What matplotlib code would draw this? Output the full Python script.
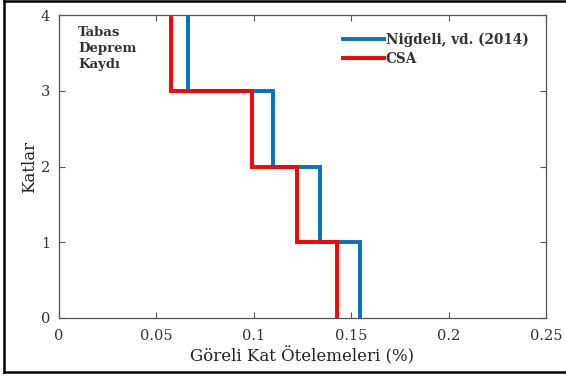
import numpy as np
import matplotlib.pyplot as plt
from matplotlib.lines import Line2D

# storey drift ratios (%) for storeys 1..4
storeys = [1, 2, 3, 4]
nigdeli = [0.1546, 0.1341, 0.1102, 0.0663]
csa = [0.1430, 0.1221, 0.0994, 0.0577]
xticks = [0, 0.05, 0.1, 0.15, 0.2, 0.25]
xticklabels = ['0', '0.05', '0.1', '0.15', '0.2', '0.25']
yticks = [0, 1, 2, 3, 4]

plt.rcParams['font.family'] = ['DejaVu Serif']


def stair(vals, levels):
    x = np.repeat(vals, 2)
    y = np.concatenate([[0], np.repeat(levels[:-1], 2), [levels[-1]]])
    return x, y


fig = plt.figure(figsize=(5.66, 3.76), dpi=100)
ax = fig.add_axes([0.1034, 0.1543, 0.8613, 0.8057])

xb, yb = stair(nigdeli, storeys)
xr, yr = stair(csa, storeys)
ax.plot(xb, yb, color='#0072BD', lw=2.8, label='Niğdeli, vd. (2014)', solid_joinstyle='miter')
ax.plot(xr, yr, color='#FF0000', lw=2.8, label='CSA', solid_joinstyle='miter')

ax.set_xlim(0, 0.25)
ax.set_ylim(0, 4)
ax.set_xticks(xticks)
ax.set_xticklabels(xticklabels)
ax.set_yticks(yticks)
for s in ax.spines.values():
    s.set_color('#555555')
    s.set_linewidth(0.9)
ax.tick_params(direction='in', top=True, right=True, length=4, width=0.8,
               color='#555555', labelcolor='#333333', labelsize=10.5)
ax.tick_params(axis='x', pad=8)
ax.tick_params(axis='y', pad=6)

ax.set_xlabel('Göreli Kat Ötelemeleri (%)', fontsize=12, color='#222222', labelpad=3)
ax.set_ylabel('Katlar', fontsize=12, color='#222222', labelpad=2)

ax.text(0.04, 0.965, 'Tabas\nDeprem\nKaydı', transform=ax.transAxes, ha='left', va='top',
        fontsize=9.5, fontweight='bold', color='#333333', linespacing=1.3)

leg = ax.legend(loc='upper right', frameon=False, handlelength=3.0,
                handletextpad=0.15, borderaxespad=0.9, labelspacing=0.35,
                prop={'weight': 'bold', 'size': 9.8})
for t in leg.get_texts():
    t.set_color('#333333')

# figure frame (left, top, bottom)
for xs, ys in [([0.007, 1.0], [0.997, 0.997]),
               ([0.007, 1.0], [0.011, 0.011]),
               ([0.007, 0.007], [0.011, 0.997])]:
    fig.add_artist(Line2D(xs, ys, transform=fig.transFigure, color='black',
                          lw=1.8, solid_capstyle='projecting'))

plt.savefig('out.png', dpi=100)
